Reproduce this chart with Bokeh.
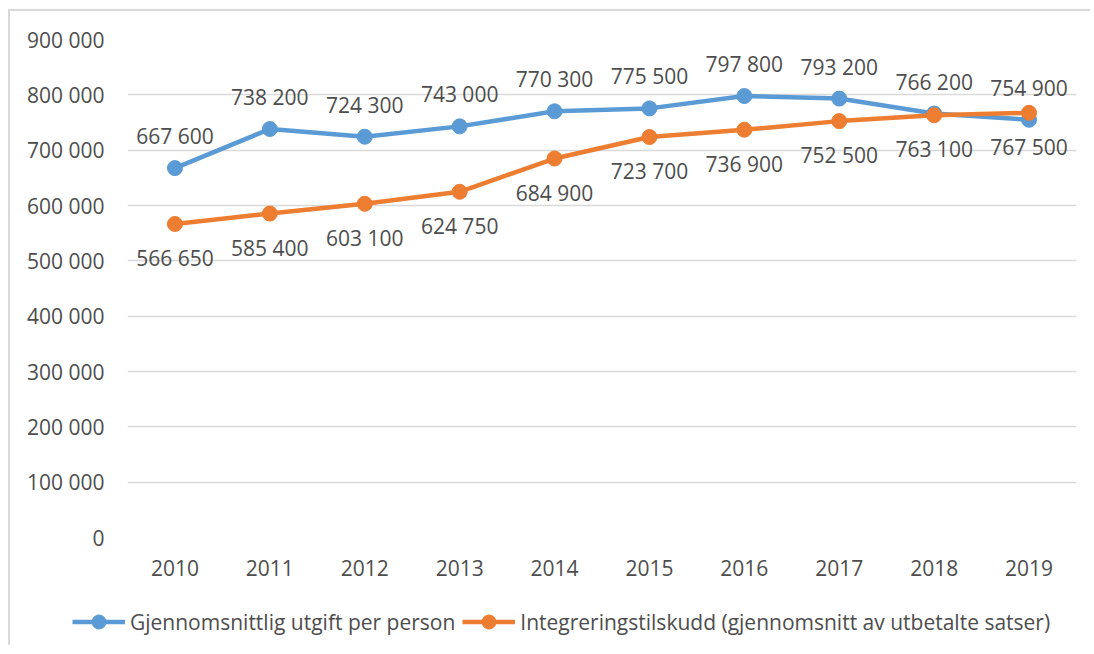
from bokeh.plotting import figure
from bokeh.layouts import column
from bokeh.models import FactorRange, Range1d, FixedTicker, Legend, LegendItem, ColumnDataSource, LabelSet
from bokeh.core.properties import value
from bokeh.embed import file_html
from bokeh.resources import INLINE

years = ["2010", "2011", "2012", "2013", "2014", "2015", "2016", "2017", "2018", "2019"]
utgift = [667600, 738200, 724300, 743000, 770300, 775500, 797800, 793200, 766200, 754900]
tilskudd = [566650, 585400, 603100, 624750, 684900, 723700, 736900, 752500, 763100, 767500]
y_ticks = [0, 100000, 200000, 300000, 400000, 500000, 600000, 700000, 800000, 900000]
y_tick_labels = ["0", "100 000", "200 000", "300 000", "400 000", "500 000",
                 "600 000", "700 000", "800 000", "900 000"]
series_names = ["Gjennomsnittlig utgift per person",
                "Integreringstilskudd (gjennomsnitt av utbetalte satser)"]

BLUE = "#5b9bd5"
ORANGE = "#ed7d31"
TXT = "#4d4d4d"
FONT = "Open Sans"


def fmt(v):
    return "{:,}".format(v).replace(",", " ")


p = figure(width=1080, height=590, output_backend="svg", toolbar_location=None,
           x_range=FactorRange(*years, range_padding=0),
           y_range=Range1d(0, 900000), frame_align=False,
           min_border_left=117, min_border_top=28, min_border_right=14, min_border_bottom=64)
p.outline_line_color = None
p.background_fill_color = "white"
p.border_fill_color = "white"

p.ygrid.grid_line_color = "#d9d9d9"
p.ygrid.grid_line_width = 1.5
p.xgrid.grid_line_color = None
p.yaxis.ticker = FixedTicker(ticks=y_ticks)
p.yaxis.major_label_overrides = {t: l for t, l in zip(y_ticks, y_tick_labels)}
p.yaxis.axis_line_color = None
p.yaxis.major_tick_line_color = None
p.yaxis.minor_tick_line_color = None
p.yaxis.major_tick_out = 0
p.yaxis.major_label_standoff = 23
p.yaxis.major_label_text_font = FONT
p.yaxis.major_label_text_font_size = "21px"
p.yaxis.major_label_text_color = TXT

p.xaxis.axis_line_color = None
p.xaxis.major_tick_line_color = None
p.xaxis.major_tick_out = 0
p.xaxis.major_label_standoff = 22
p.xaxis.major_label_text_font = FONT
p.xaxis.major_label_text_font_size = "21px"
p.xaxis.major_label_text_color = TXT

src = ColumnDataSource(dict(x=years, u=utgift, t=tilskudd,
                            ul=[fmt(v) for v in utgift], tl=[fmt(v) for v in tilskudd]))

p.line("x", "u", source=src, line_color=BLUE, line_width=4.5)
p.scatter("x", "u", source=src, size=15, fill_color=BLUE, line_color=BLUE)
p.line("x", "t", source=src, line_color=ORANGE, line_width=4.5)
p.scatter("x", "t", source=src, size=15, fill_color=ORANGE, line_color=ORANGE)

lab1 = LabelSet(x="x", y="u", text="ul", source=src, y_offset=32, text_align="center",
                text_baseline="middle", text_font=value(FONT), text_font_size="21px", text_color=TXT)
lab2 = LabelSet(x="x", y="t", text="tl", source=src, y_offset=-34, text_align="center",
                text_baseline="middle", text_font=value(FONT), text_font_size="21px", text_color=TXT)
p.add_layout(lab1)
p.add_layout(lab2)

# legend strip (separate figure so the legend may sit left of the plot frame);
# its series renderers use the same data but lie outside its visible y range
lg = figure(width=1080, height=44, output_backend="svg", toolbar_location=None,
            x_range=FactorRange(*years, range_padding=0), y_range=Range1d(5000000, 6000000),
            x_axis_location=None, y_axis_location=None, frame_align=False,
            min_border_left=0, min_border_right=0, min_border_top=0, min_border_bottom=0)
lg.outline_line_color = None
lg.grid.grid_line_color = None
d1 = lg.line("x", "u", source=src, line_color=BLUE, line_width=4.5)
m1 = lg.scatter("x", "u", source=src, size=15, fill_color=BLUE, line_color=BLUE)
d2 = lg.line("x", "t", source=src, line_color=ORANGE, line_width=4.5)
m2 = lg.scatter("x", "t", source=src, size=15, fill_color=ORANGE, line_color=ORANGE)
legend = Legend(items=[LegendItem(label=series_names[0], renderers=[d1, m1]),
                       LegendItem(label=series_names[1], renderers=[d2, m2])],
                orientation="horizontal", location=(62, 6),
                label_text_font=FONT, label_text_font_size="21px", label_text_color=TXT,
                glyph_width=53, glyph_height=35, label_standoff=5, spacing=7,
                padding=0, margin=0, border_line_color=None, background_fill_alpha=0)
lg.add_layout(legend, "center")

layout = column(p, lg, spacing=0,
                styles={"margin-left": "8px", "margin-top": "9px",
                        "border-top": "2px solid #d9d9d9", "border-left": "2px solid #d9d9d9"})

open("out.html", "w").write(file_html(layout, INLINE))
